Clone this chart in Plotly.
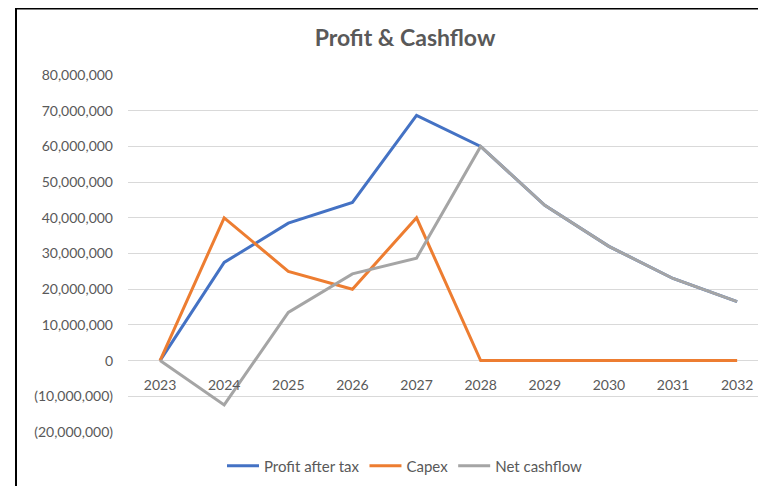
import plotly.graph_objects as go

years = ["2023", "2024", "2025", "2026", "2027", "2028", "2029", "2030", "2031", "2032"]
profit_after_tax = [0, 27500000, 38500000, 44300000, 68700000, 60000000, 43500000, 32000000, 23000000, 16500000]
capex = [0, 40000000, 25000000, 20000000, 40000000, 0, 0, 0, 0, 0]
net_cashflow = [0, -12400000, 13500000, 24300000, 28700000, 60000000, 43500000, 32000000, 23000000, 16500000]

y_tick_vals = [-20000000, -10000000, 0, 10000000, 20000000, 30000000, 40000000, 50000000, 60000000, 70000000, 80000000]
y_tick_text = ["(20,000,000)", "(10,000,000)", "0", "10,000,000", "20,000,000", "30,000,000",
               "40,000,000", "50,000,000", "60,000,000", "70,000,000", "80,000,000"]

FONT = "Lato"
TXT = "#595959"

# the page body has an 8px margin, so figure coords = page coords - 8
W, H = 758, 478
L, T = 120, 67
PLOT_BOTTOM = 424
H_PLOT = PLOT_BOTTOM - T
W_PLOT = W - L

fig = go.Figure()
fig.add_trace(go.Scatter(x=years, y=profit_after_tax, mode="lines", name="Profit after tax",
                         line=dict(color="#4472C4", width=3)))
fig.add_trace(go.Scatter(x=years, y=capex, mode="lines", name="Capex",
                         line=dict(color="#ED7D31", width=3)))
fig.add_trace(go.Scatter(x=years, y=net_cashflow, mode="lines", name="Net cashflow",
                         line=dict(color="#A5A5A5", width=3)))

zero_pos = 0.2  # position of 0 on the -20M..80M range

fig.update_layout(
    width=W, height=H,
    margin=dict(l=L, r=0, t=T, b=H - PLOT_BOTTOM, pad=0),
    paper_bgcolor="white", plot_bgcolor="white",
    font=dict(family=FONT, color=TXT, size=14),
    title=dict(text="<b>Profit & Cashflow</b>", x=397 / W, xref="container", xanchor="center",
               y=1 - 30 / H, yref="container", yanchor="middle",
               font=dict(family=FONT, size=23, color=TXT)),
    showlegend=True,
    legend=dict(orientation="h", x=(397 - L) / W_PLOT, xanchor="center",
                y=-(458 - PLOT_BOTTOM) / H_PLOT, yanchor="middle", itemwidth=32,
                font=dict(family=FONT, size=15, color=TXT), bgcolor="rgba(0,0,0,0)"),
    xaxis=dict(type="category", range=[-0.5, 9.45], anchor="free", position=zero_pos,
               showgrid=False, showline=False, ticks="", zeroline=False,
               tickfont=dict(family=FONT, size=14, color=TXT), ticklabelstandoff=14),
    yaxis=dict(range=[-20000000, 80000000], tickvals=y_tick_vals, ticktext=y_tick_text,
               showgrid=True, gridcolor="#D9D9D9", gridwidth=1, zeroline=False,
               showline=False, ticks="", ticklabelstandoff=14,
               tickfont=dict(family=FONT, size=14, color=TXT)),
    shapes=[dict(type="rect", xref="paper", yref="paper",
                 x0=(8 - L) / W_PLOT, x1=1.05, y0=-0.3, y1=(PLOT_BOTTOM - 0.5) / H_PLOT,
                 line=dict(color="#000000", width=2), fillcolor="rgba(0,0,0,0)", layer="above")],
)

fig.write_html("out.html")
